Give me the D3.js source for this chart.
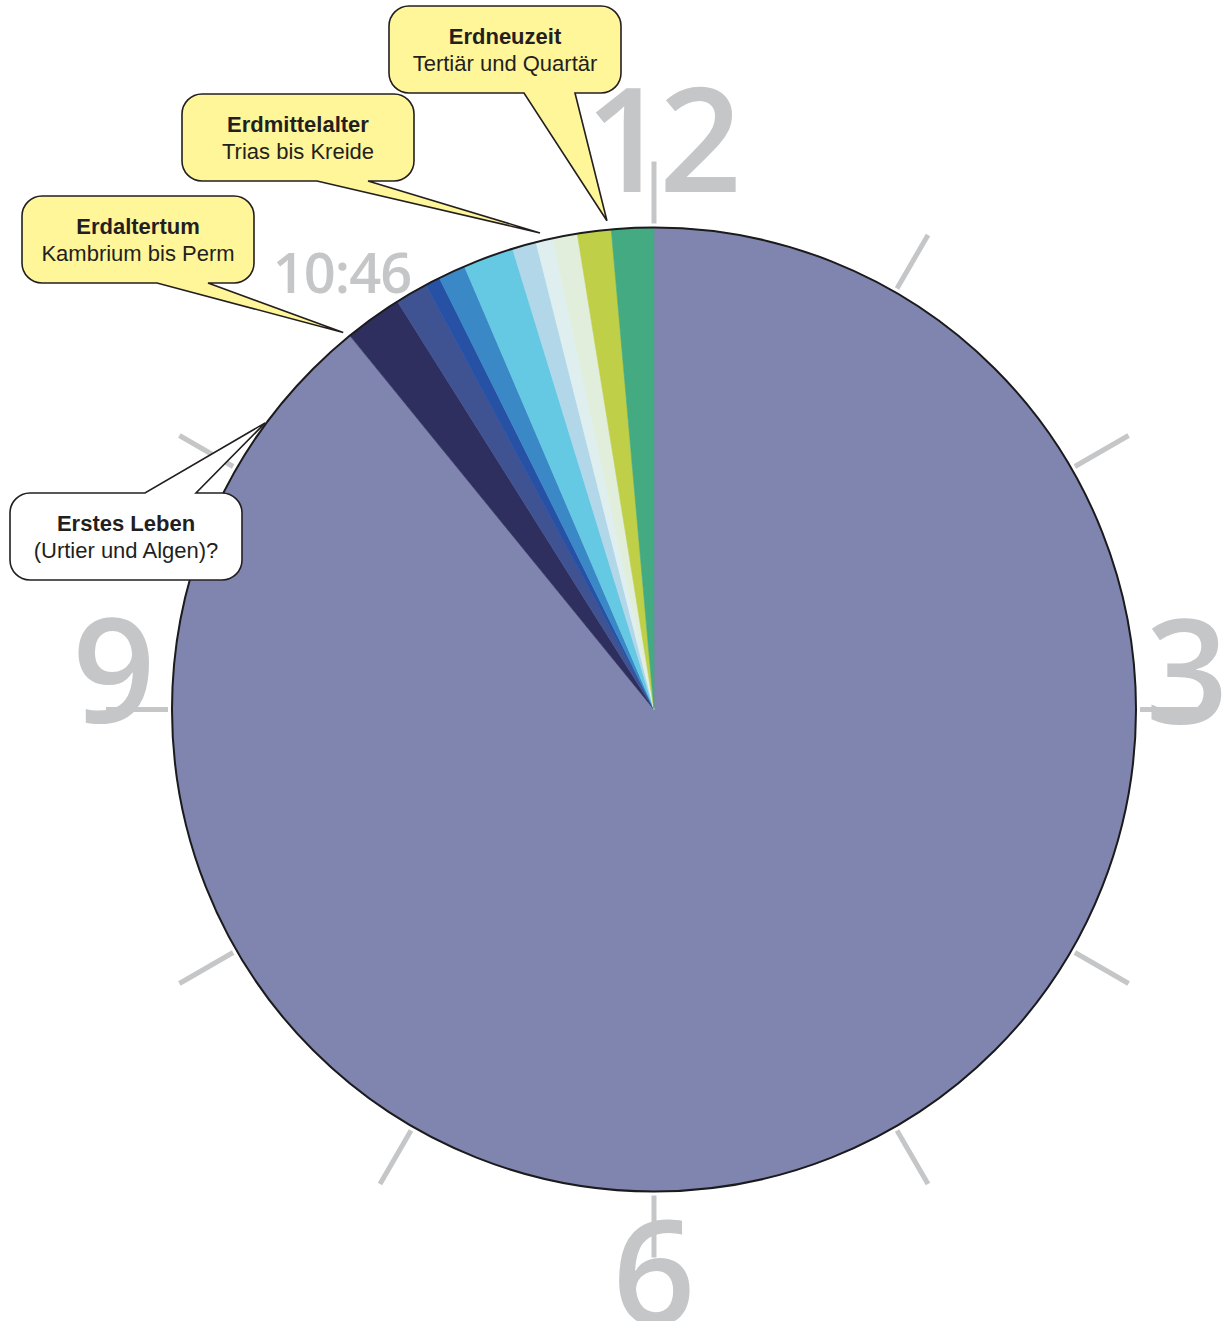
<!DOCTYPE html>
<html lang="de">
<head>
<meta charset="utf-8">
<script src="https://cdn.jsdelivr.net/npm/d3@7"></script>
<style>
  html, body { margin: 0; padding: 0; background: #ffffff; }
  svg { display: block; }
</style>
</head>
<body>
<svg id="chart" width="1223" height="1321"></svg>
<script>
// ---------------- data ----------------
// Erdgeschichte als 12-Stunden-Uhr (Dauer in Mio. Jahren, im Uhrzeigersinn ab 12 Uhr)
const periods = ["Präkambrium", "Kambrium", "Ordovizium", "Silur", "Devon", "Karbon",
                 "Perm", "Trias", "Jura", "Kreide", "Tertiär und Quartär"];
const durationsMa = [4100, 89, 50, 23, 42, 78, 37, 26, 38, 52, 65];
const periodColors = ["#7f85ae", "#2e2f5e", "#3f5291", "#2651a4", "#3b88c7", "#66c9e3",
                      "#b2d7e9", "#dfeff0", "#e0eedb", "#bfcf48", "#43aa82"];

const hourLabels = ["12", "3", "6", "9"];
const hourLabelHours = [0, 3, 6, 9];
const tickHours = [0, 1, 2, 3, 4, 5, 6, 7, 8, 9, 10]; // 11 o'clock is hidden by the time label
const timeLabel = "10:46";

const calloutTitles = ["Erdneuzeit", "Erdmittelalter", "Erdaltertum", "Erstes Leben"];
const calloutTexts  = ["Tertiär und Quartär", "Trias bis Kreide", "Kambrium bis Perm", "(Urtier und Algen)?"];
// where each callout points, in degrees counter-clockwise from 12 o'clock
const calloutTargetDeg = [5.5, 13.45, 39.5, 53.6];

// ---------------- layout / style ----------------
const W = 1223, H = 1321;
const cx = 654, cy = 709.5, R = 482;
const grey = "#c5c6c8";
const ink = "#231f20";

const svg = d3.select("#chart");

const hourScale = d3.scaleLinear().domain([0, 12]).range([0, 2 * Math.PI]);
function polar(angle, r) { return [cx + r * Math.sin(angle), cy - r * Math.cos(angle)]; }

// ---- ticks ----
const tickG = svg.append("g");
tickHours.forEach(h => {
  const a = hourScale(h);
  const p1 = polar(a, R + 4), p2 = polar(a, R + 66);
  tickG.append("line")
    .attr("x1", p1[0]).attr("y1", p1[1]).attr("x2", p2[0]).attr("y2", p2[1])
    .attr("stroke", grey).attr("stroke-width", 5);
});

// ---- hour numbers ----
const numFs = 145;
const numStyle = { // radius and nudges for each label
  "12": { r: 540, dx: 5, dy: -29.5, ls: -9 },
  "3":  { r: 540, dx: -7, dy: -37.5, ls: 0 },
  "6":  { r: 540, dx: 0, dy: 23.5, ls: 0 },
  "9":  { r: 540, dx: 0, dy: -38.5, ls: 0 }
};
hourLabels.forEach((lab, i) => {
  const st = numStyle[lab];
  const p = polar(hourScale(hourLabelHours[i]), st.r);
  svg.append("text")
    .attr("x", p[0] + st.dx)
    .attr("y", p[1] + st.dy + 0.357 * numFs)
    .attr("text-anchor", "middle")
    .attr("font-family", "'Open Sans', sans-serif")
    .attr("font-weight", 600)
    .attr("font-size", numFs)
    .attr("letter-spacing", st.ls)
    .attr("fill", grey)
    .text(lab);
});

// ---- pie ----
const pie = d3.pie().sort(null).value(d => d.v);
const arcs = pie(periods.map((p, i) => ({ name: p, v: durationsMa[i], c: periodColors[i] })));
const arc = d3.arc().innerRadius(0).outerRadius(R);
const pieG = svg.append("g").attr("transform", `translate(${cx},${cy})`);
pieG.selectAll("path").data(arcs).join("path")
  .attr("d", arc)
  .attr("fill", d => d.data.c)
  .attr("stroke", d => d.data.c)
  .attr("stroke-width", 0.6);
pieG.append("circle").attr("r", R).attr("fill", "none")
  .attr("stroke", "#1b1a1c").attr("stroke-width", 2);

// ---- 10:46 ----
svg.append("text")
  .attr("x", 342).attr("y", 293)
  .attr("text-anchor", "middle")
  .attr("font-family", "'Open Sans', sans-serif")
  .attr("font-weight", 600)
  .attr("font-size", 56)
  .attr("letter-spacing", -1)
  .attr("fill", grey)
  .text(timeLabel);

// ---- callouts ----
const boxW = 232, boxH = 87, boxR = 20;
const calloutBoxes = [
  { x: 389, y: 6,   tipR: 491, side: "bottom", fill: "#fff599" },
  { x: 182, y: 94,  tipR: 490, side: "bottom", fill: "#fff599" },
  { x: 22,  y: 196, tipR: 488.6, side: "bottom", fill: "#fff599" },
  { x: 10,  y: 493, tipR: 483, side: "top", fill: "#ffffff" }
];
function calloutPath(b, tip) {
  const x = b.x, y = b.y, w = boxW, h = boxH, r = boxR;
  const b1 = x + 135, b2 = x + 186;
  const p = d3.path();
  p.moveTo(x + r, y);
  if (b.side === "top") { p.lineTo(b1, y); p.lineTo(tip[0], tip[1]); p.lineTo(b2, y); }
  p.lineTo(x + w - r, y);
  p.arcTo(x + w, y, x + w, y + r, r);
  p.lineTo(x + w, y + h - r);
  p.arcTo(x + w, y + h, x + w - r, y + h, r);
  if (b.side === "bottom") { p.lineTo(b2, y + h); p.lineTo(tip[0], tip[1]); p.lineTo(b1, y + h); }
  p.lineTo(x + r, y + h);
  p.arcTo(x, y + h, x, y + h - r, r);
  p.lineTo(x, y + r);
  p.arcTo(x, y, x + r, y, r);
  p.closePath();
  return p.toString();
}
calloutTitles.forEach((t, i) => {
  const b = calloutBoxes[i];
  const a = -calloutTargetDeg[i] * Math.PI / 180;
  const tip = polar(a, b.tipR);
  const g = svg.append("g");
  g.append("path").attr("d", calloutPath(b, tip))
    .attr("fill", b.fill).attr("stroke", ink).attr("stroke-width", 1.6)
    .attr("stroke-linejoin", "miter");
  g.append("text")
    .attr("x", b.x + boxW / 2).attr("y", b.y + 38)
    .attr("text-anchor", "middle")
    .attr("font-family", "'Liberation Sans', Arial, sans-serif")
    .attr("font-weight", 700).attr("font-size", 22).attr("fill", ink)
    .text(t);
  g.append("text")
    .attr("x", b.x + boxW / 2).attr("y", b.y + 65)
    .attr("text-anchor", "middle")
    .attr("font-family", "'Liberation Sans', Arial, sans-serif")
    .attr("font-weight", 400).attr("font-size", 22).attr("fill", ink)
    .text(calloutTexts[i]);
});
</script>
</body>
</html>
